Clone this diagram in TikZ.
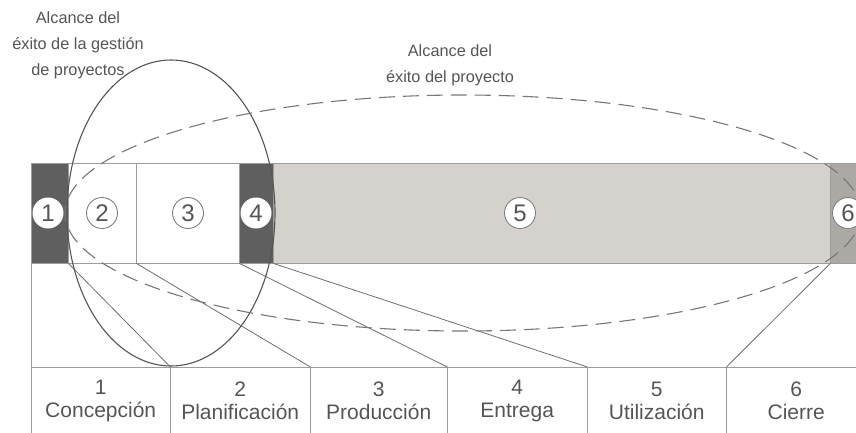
\documentclass[tikz,border=0pt]{standalone}
\usepackage{fontspec}
\setmainfont{Liberation Sans}
\definecolor{ink}{HTML}{555555}
\definecolor{rule}{HTML}{9C9C9C}
\definecolor{dark}{HTML}{5F5F5F}
\definecolor{pale}{HTML}{D5D1CD}
\definecolor{mid}{HTML}{ACA8A4}
\definecolor{edge}{HTML}{555555}
\tikzset{
  seg/.style={draw=rule, anchor=north west, inner sep=0pt, minimum height=100pt},
  num/.style={circle, fill=white, draw=ink!75, line width=0.9pt, minimum size=31pt,
    inner sep=0pt, font=\fontsize{24}{24}\selectfont, text=ink},
  phase/.style={draw=rule, anchor=north west, inner sep=0pt, minimum height=67pt,
    align=center, font=\fontsize{21}{23}\selectfont, text=ink},
  scopelabel/.style={align=center, font=\fontsize{16.3}{26}\selectfont, text=ink},
}
\begin{document}
\begin{tikzpicture}[x=1pt,y=-1pt]
      \useasboundingbox (0,0) rectangle (856,432);
      \clip (0,0) rectangle (856,432);
      % bar of phases
      \path
        (31,163) node[seg, fill=dark, minimum width=37pt] (s1){}
        (68,163) node[seg, fill=white, minimum width=68pt] (s2){}
        (136,163) node[seg, fill=white, minimum width=103pt] (s3){}
        (239,163) node[seg, fill=dark, minimum width=34pt] (s4){}
        (273,163) node[seg, fill=pale, minimum width=557pt] (s5){}
        (830,163) node[seg, fill=mid, minimum width=40pt] (s6){};
      \draw[rule] (31,263) rectangle (870,367);
      % phase boxes
      \path
        (31,367) node[phase, minimum width=139pt] (b1){1\\Concepción}
        (170,367) node[phase, minimum width=140pt] (b2){2\\Planificación}
        (310,367) node[phase, minimum width=137pt] (b3){3\\Producción}
        (447,367) node[phase, minimum width=140pt] (b4){4\\Entrega}
        (587,367) node[phase, minimum width=139pt] (b5){5\\Utilización}
        (726,367) node[phase, minimum width=140pt] (b6){6\\Cierre};
      \begin{scope}[-, draw=ink!85, line width=0.8pt]
        \draw (s1.south east) to (b1.north east);
        \draw (s2.south east) to (b2.north east);
        \draw (s3.south east) to (b3.north east);
        \draw (s4.south east) to (b4.north east);
        \draw (s5.south east) to (b5.north east);
      \end{scope}
      % scopes of success
      \draw[edge, line width=1.1pt] (171,213) ellipse [x radius=104pt, y radius=153pt];
      \draw[edge!80, line width=1.1pt, dash pattern=on 16pt off 8pt]
        (463,213) ellipse [x radius=398pt, y radius=118pt];
      \path
        (48,213) node[num, draw=none] (c1){1}
        (102,213) node[num] (c2){2}
        (188,213) node[num] (c3){3}
        (256,213) node[num, draw=none] (c4){4}
        (520,213) node[num] (c5){5}
        (848,213) node[num] (c6){6};
      \node[scopelabel] (gestion) at (78,45) {Alcance del\\éxito de la gestión\\de proyectos};
      \node[scopelabel] (proyecto) at (450,65) {Alcance del\\éxito del proyecto};
    \end{tikzpicture}
\end{document}
